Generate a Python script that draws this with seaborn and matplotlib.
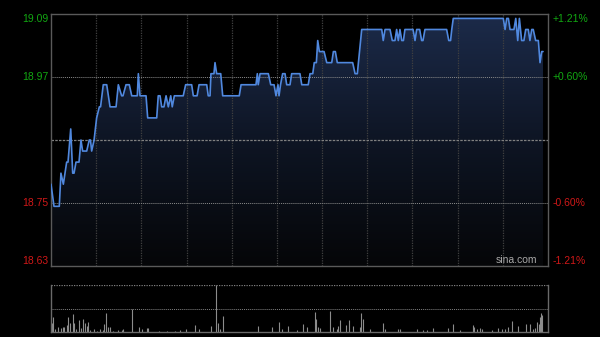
import numpy as np
import pandas as pd
import matplotlib
matplotlib.use("Agg")
import matplotlib.pyplot as plt
import matplotlib.transforms as mtransforms
from matplotlib.colors import LinearSegmentedColormap
import seaborn as sns

# ---------------- data ----------------
minutes = [0, 2, 5.5, 6.6, 8.2, 10.4, 11.3, 13.1, 14.4, 15.3, 16.6, 18.6, 19.9, 21, 23.7,
           25.4, 26.2, 27, 28.6, 30.3, 32.1, 32.9, 34.7, 37, 39.2, 43.2, 44.7, 46.9, 47.8,
           49.8, 52, 53.6, 57.3, 58, 59.1, 63.1, 64.2, 70.2, 71.2, 72.4, 73.5, 75, 76.4,
           77.9, 79.5, 80.5, 81.9, 87.8, 89.4, 93.4, 94.5, 97, 98.3, 103.4, 104.4, 105.6,
           106.2, 108.2, 108.9, 110, 112.7, 114, 125, 126.2, 136.1, 137, 137.6, 138.8,
           144.3, 145.9, 148.1, 149.4, 150.7, 151.4, 152.4, 153.8, 155.4, 156.5, 158.7,
           159.8, 165.3, 166.5, 170.8, 172, 173.8, 174.8, 176.2, 177.1, 178.2, 181.3,
           183.1, 186.4, 187.5, 188.8, 190.1, 200.3, 201.9, 203.4, 206.3, 219.6, 220.6,
           221.8, 225.1, 226.6, 228.4, 229.5, 230.6, 231.7, 232.9, 234, 235, 240.4, 241.7,
           242.8, 244.8, 246.1, 247, 248.3, 262.7, 264.1, 265.3, 266.1, 267.1, 300.3,
           301.5, 302.6, 303.7, 304.8, 307.4, 308.6, 309.9, 311, 312.5, 314, 315.2, 316.9,
           318, 319.2, 320.2, 321.8, 323.6, 324.7, 325.8, 326.7]
prices = [18.78, 18.74, 18.74, 18.80, 18.78, 18.82, 18.82, 18.88, 18.80, 18.80, 18.82, 18.82,
          18.86, 18.84, 18.84, 18.86, 18.86, 18.84, 18.86, 18.90, 18.92, 18.92, 18.96, 18.96,
          18.92, 18.92, 18.96, 18.94, 18.94, 18.96, 18.96, 18.94, 18.94, 18.98, 18.94, 18.94,
          18.90, 18.90, 18.94, 18.94, 18.92, 18.92, 18.94, 18.92, 18.94, 18.92, 18.94, 18.94,
          18.96, 18.96, 18.94, 18.94, 18.96, 18.96, 18.94, 18.94, 18.98, 18.98, 19.00, 18.98,
          18.98, 18.94, 18.94, 18.96, 18.96, 18.98, 18.96, 18.98, 18.98, 18.96, 18.96, 18.94,
          18.96, 18.94, 18.96, 18.98, 18.98, 18.96, 18.96, 18.98, 18.98, 18.96, 18.96, 18.98,
          18.98, 19.00, 19.00, 19.04, 19.02, 19.02, 19.00, 19.00, 19.02, 19.02, 19.00, 19.00,
          18.98, 18.98, 19.06, 19.06, 19.04, 19.06, 19.06, 19.04, 19.04, 19.06, 19.04, 19.06,
          19.04, 19.04, 19.06, 19.06, 19.04, 19.06, 19.06, 19.04, 19.04, 19.06, 19.06, 19.04,
          19.04, 19.06, 19.08, 19.08, 19.06, 19.08, 19.08, 19.06, 19.06, 19.08, 19.04, 19.08,
          19.04, 19.04, 19.06, 19.06, 19.04, 19.06, 19.06, 19.04, 19.04, 19.00, 19.02, 19.02]

vol_minutes = [0.5, 1.5, 2.7, 4.9, 6.6, 7.7, 8.9, 10.4, 11.5, 12.6, 14.8, 15.5, 16.6, 18.6,
               19.9, 21.5, 22.6, 23.7, 24.8, 25.9, 28.8, 30.3, 32.5, 34.3, 35.4, 36.5, 38,
               39.2, 41.4, 44.7, 46.9, 48, 53.6, 58.6, 60.2, 63.5, 64.6, 71.9, 76.8, 82.3,
               85.7, 89.6, 95.6, 98.5, 106, 109.6, 110.7, 112.2, 114.4, 137.6, 146.5, 151.6,
               153.2, 157.6, 163.1, 167.5, 169.8, 175.3, 176, 177.5, 178.6, 185.3, 187.5,
               189.7, 190.8, 191.9, 195.7, 197.9, 200.7, 205.2, 205.8, 207, 211.8, 220.6,
               221.8, 230.6, 231.7, 242.8, 247.2, 249.5, 253.4, 263.8, 267.1, 271.6, 280,
               280.9, 282.6, 284.9, 286, 292.6, 297, 299.3, 301.5, 303.7, 305.9, 310.3, 315.4,
               318, 319.9, 321.4, 322.9, 323.8, 324.7, 325.4, 325.8]
volumes = [8.7, 14.7, 2.7, 5.3, 3.7, 4.7, 5.3, 7, 14.7, 8.7, 17.7, 8.7, 2.7, 12,
           3.7, 12.7, 9.3, 6, 10.3, 2, 2.7, 1.3, 2.7, 2, 8, 19.3, 4.7,
           5.3, 1.3, 2, 2, 2.7, 23, 5.3, 2.7, 3.7, 3.7, 1.3, 1, 1.3,
           2, 3, 7, 2.7, 6, 60, 8.7, 2.7, 16, 6, 5.3, 10.3,
           2.7, 6, 2, 8, 5.3, 20.3, 12.7, 4.7, 3.7, 21.3, 5.3,
           2.7, 6, 12, 7, 12, 6, 5.3, 18.7, 12.7, 2.7, 9.3,
           2.7, 2.7, 2.7, 2.7, 2, 2, 3.7, 3.7, 8, 2, 7,
           4.7, 2.7, 3.7, 2.7, 2, 3.7, 2.7, 2.7, 4.7, 11.3, 6, 8,
           8, 3.3, 3.7, 10.3, 8, 15.3, 19.3, 17]

left_labels = ["19.09", "18.97", "18.75", "18.63"]
right_labels = ["+1.21%", "+0.60%", "-0.60%", "-1.21%"]
prev_close = 18.86
y_low, y_high = 18.632, 19.088
label_levels = [19.088, 18.974, 18.746, 18.632]

# ---------------- figure ----------------
sns.set_theme(style="dark")
plt.rcParams['font.family'] = ['Liberation Sans', 'DejaVu Sans']

fig = plt.figure(figsize=(6.0, 3.37), dpi=100, facecolor="black")
ax = fig.add_axes([51/600, 1-266/337, 497/600, 252/337], facecolor="black")
axv = fig.add_axes([51/600, 1-332/337, 497/600, 47/337], facecolor="black")

df = pd.DataFrame({"minute": minutes, "price": prices})

# gradient fill under the line
poly = ax.fill_between(df["minute"], df["price"], y_low, color="none", lw=0)
cmap = LinearSegmentedColormap.from_list("g", ["#050608", "#0e1524", "#1c2b4a"])
grad = np.linspace(0, 1, 256).reshape(-1, 1)
im = ax.imshow(grad, extent=[0, 330, y_low, y_high], origin="lower", aspect="auto",
               cmap=cmap, zorder=0.5)
im.set_clip_path(poly.get_paths()[0], transform=ax.transData)

sns.lineplot(data=df, x="minute", y="price", ax=ax, color="#5088de", linewidth=1.2,
             estimator=None, sort=False, zorder=3)

ax.set_xlim(0, 330)
ax.set_ylim(y_low, y_high)
ax.grid(False)
ax.set_xticks([])
ax.set_yticks([])
ax.set_xlabel("")
ax.set_ylabel("")

for t in range(30, 330, 30):
    ax.axvline(t, color="#404040", lw=0.9, ls=(0, (1, 1)), zorder=1)
for lv in [18.974, 18.746]:
    ax.axhline(lv, color="#8a8a8a", lw=0.7, ls=(0, (1, 1)), zorder=1)
ax.axhline(prev_close, color="#808080", lw=0.9, ls=(0, (2, 1)), zorder=1)

for s in ax.spines.values():
    s.set_color("#5a5a5a")
    s.set_linewidth(1.0)

trans = mtransforms.blended_transform_factory(ax.transAxes, ax.transData)
vas = ["top", "center", "center", "bottom"]
for lab, rlab, lv, va in zip(left_labels, right_labels, label_levels, vas):
    col = "#12a812" if lv > prev_close else "#d01818"
    ax.text(-0.006, lv, lab, transform=trans, ha="right", va=va, color=col, fontsize=7.5)
    ax.text(1.010, lv, rlab, transform=trans, ha="left", va=va, color=col, fontsize=7.5)

ax.text(0.978, 0.004, "sina.com", transform=ax.transAxes, ha="right", va="bottom",
        color="#a8a8a8", fontsize=7.5)

# volume panel
axv.vlines(vol_minutes, 0, np.minimum(volumes, 47), color="#8c8c8c", linewidth=0.8)
axv.set_xlim(0, 330)
axv.set_ylim(0, 47)
axv.set_xticks([])
axv.set_yticks([])
axv.grid(False)
axv.axhline(23.5, color="#808080", lw=0.7, ls=(0, (1, 1)))
axv.axhline(47, color="#808080", lw=0.9, ls=(0, (1, 1)))
for k in ["left", "right", "bottom"]:
    axv.spines[k].set_color("#6a6a6a")
    axv.spines[k].set_linewidth(1.0)
axv.spines["top"].set_visible(False)

fig.savefig("out.png", dpi=100, facecolor="black")
